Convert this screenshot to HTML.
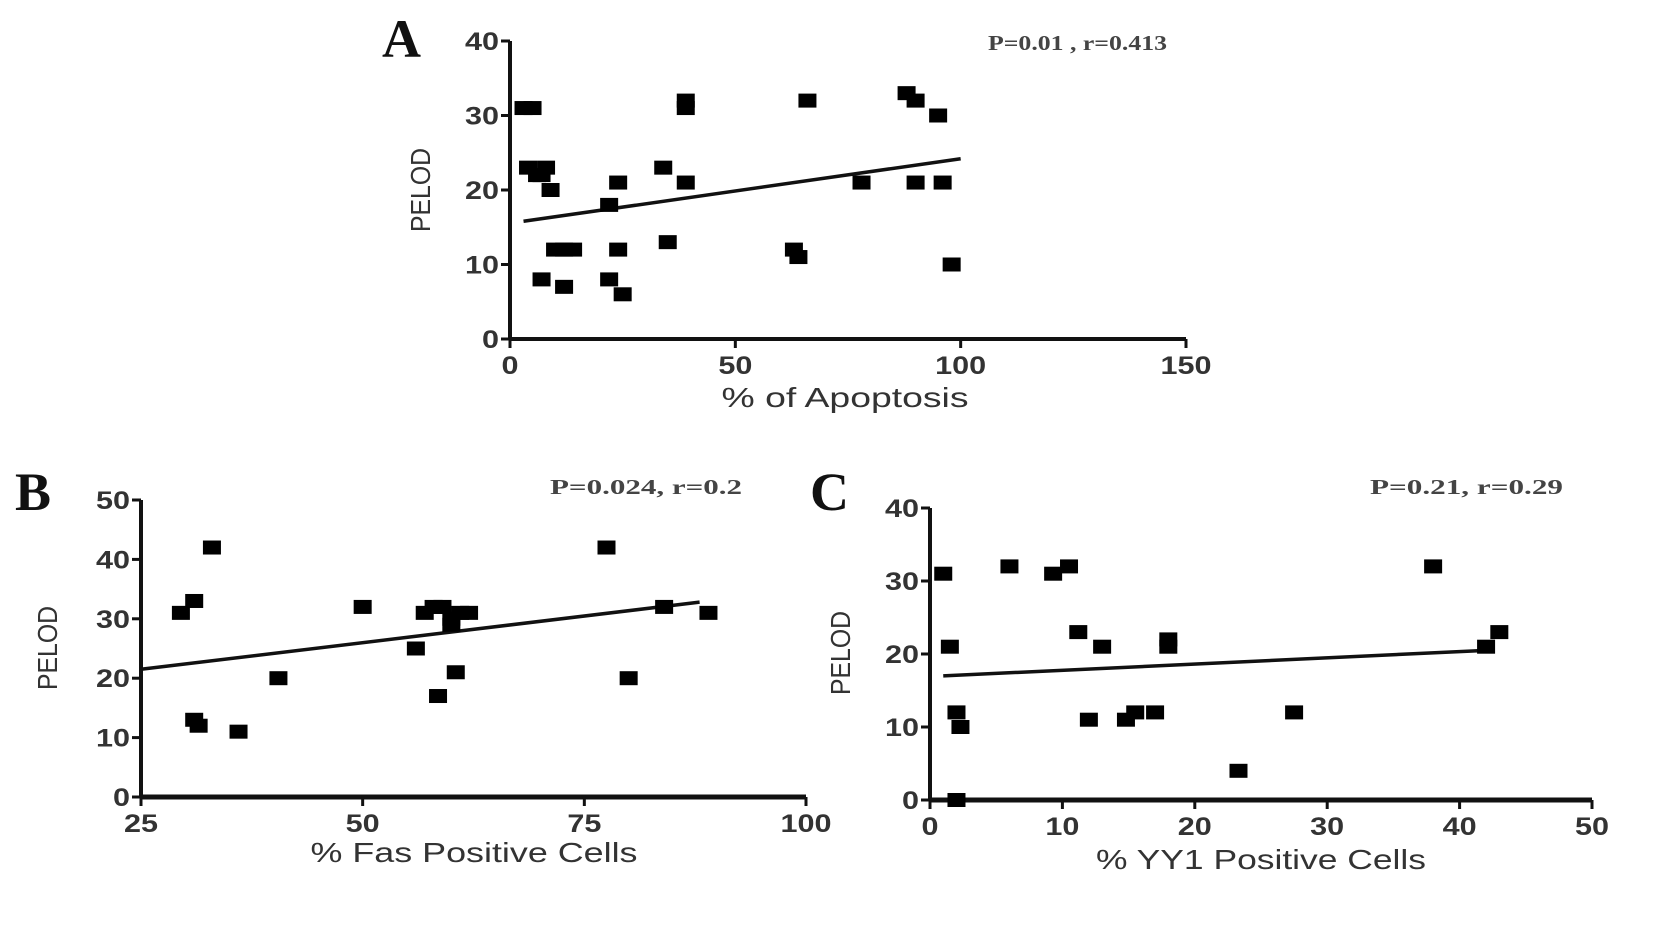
<!DOCTYPE html>
<html><head><meta charset="utf-8"><style>
body{margin:0;background:#fff;width:1654px;height:952px;overflow:hidden}
svg{display:block}
.tick{font-family:"Liberation Sans",sans-serif;font-size:25px;font-weight:bold;fill:#333}
.title{font-family:"Liberation Sans",sans-serif;font-size:28px;fill:#333}
.letter{font-family:"Liberation Serif",serif;font-size:54px;font-weight:bold;fill:#111}
.stat{font-family:"Liberation Serif",serif;font-size:21px;font-weight:bold;fill:#444}
</style></head><body>
<svg id="fig" width="1654" height="952"></svg>
<script>
const NS="http://www.w3.org/2000/svg";
const svg=document.getElementById('fig');
// Panel A data
const aX=[3,5,4,6,7,8,7,9,10,12,14,12,22,22,24,24,25,34,35,39,39,39,63,64,66,78,88,90,90,95,96,98];
const aY=[31,31,23,22,22,23,8,20,12,12,12,7,8,18,21,12,6,23,13,32,31,21,12,11,32,21,33,32,21,30,21,10];
const aFitX=[3,100];const aFitY=[15.8,24.2];
const aXTicks=[0,50,100,150];const aYTicks=[0,10,20,30,40];
// Panel B data
const bX=[29.5,31,31,31.5,33,36,40.5,50,56,57,58,59,58.5,60,60,60.5,61,62,77.5,80,84,89];
const bY=[31,33,13,12,42,11,20,32,25,31,32,32,17,30,29,21,31,31,42,20,32,31];
const bFitX=[25,88];const bFitY=[21.5,32.8];
const bXTicks=[25,50,75,100];const bYTicks=[0,10,20,30,40,50];
// Panel C data
const cX=[1,1.5,2,2.3,2,6,9.3,10.5,11.2,12,13,14.8,15.5,17,18,18,23.3,27.5,38,42,43];
const cY=[31,21,12,10,0,32,31,32,23,11,21,11,12,12,21,22,4,12,32,21,23];
const cFitX=[1,42];const cFitY=[17,20.5];
const cXTicks=[0,10,20,30,40,50];const cYTicks=[0,10,20,30,40];

function el(t,a,p){const e=document.createElementNS(NS,t);for(const k in a)e.setAttribute(k,a[k]);(p||svg).appendChild(e);return e;}

function panel(cfg){
  const g=el('g',{});
  
  
  const sx=v=>cfg.px0+(v-cfg.xmin)/(cfg.xmax-cfg.xmin)*(cfg.px1-cfg.px0);
  const sy=v=>cfg.py0+(v-cfg.ymin)/(cfg.ymax-cfg.ymin)*(cfg.py1-cfg.py0);
  const ax=el('line',{x1:cfg.px0,y1:sy(cfg.ymin)+1.5,x2:cfg.px0,y2:cfg.py1,stroke:'#111','stroke-width':4},g);
  
  const bx=el('line',{x1:cfg.px0,y1:cfg.py0,x2:cfg.px1,y2:cfg.py0,stroke:'#111','stroke-width':cfg.xw},g);
  
  cfg.yt.forEach(v=>{
    el('line',{x1:cfg.px0-9,y1:sy(v),x2:cfg.px0,y2:sy(v),stroke:'#111','stroke-width':3},g);
    const s=String(v);
    const t=el('text',{x:cfg.px0-11,y:sy(v)+9,'text-anchor':'end',class:'tick',textLength:17*s.length,lengthAdjust:'spacingAndGlyphs'},g);t.textContent=s;
    
  });
  cfg.xt.forEach(v=>{
    el('line',{x1:sx(v),y1:cfg.py0,x2:sx(v),y2:cfg.py0+9,stroke:'#111','stroke-width':3},g);
    const s=String(v);
    const t=el('text',{x:sx(v),y:cfg.py0+35,'text-anchor':'middle',class:'tick',textLength:17*s.length,lengthAdjust:'spacingAndGlyphs'},g);t.textContent=s;
    
  });
  const fit=el('line',{x1:sx(cfg.fx[0]),y1:sy(cfg.fy[0]),x2:sx(cfg.fx[1]),y2:sy(cfg.fy[1]),stroke:'#111','stroke-width':3.5},g);
  
  cfg.X.forEach((v,i)=>{
    const r=el('rect',{x:sx(v)-9,y:sy(cfg.Y[i])-7,width:18,height:14,fill:'#000'},g);
    
  });
  const xt=el('text',{x:cfg.xtx,y:cfg.xty,'text-anchor':'middle',class:'title',textLength:cfg.xtl,lengthAdjust:'spacingAndGlyphs'},g);xt.textContent=cfg.xtitle;
  
  const yt=el('text',{x:0,y:0,'text-anchor':'middle',class:'title',textLength:84,lengthAdjust:'spacingAndGlyphs',transform:`translate(${cfg.ytx},${cfg.yty}) rotate(-90)`},g);yt.textContent='PELOD';
  
  const L=el('text',{x:cfg.lx,y:cfg.ly,class:'letter'},g);L.textContent=cfg.letter;
  
  const S=el('text',{x:cfg.sx,y:cfg.sy,class:'stat',textLength:cfg.stl,lengthAdjust:'spacingAndGlyphs'},g);S.textContent=cfg.stat;
  
}
panel({name:'panel-a-apoptosis',X:aX,Y:aY,fx:aFitX,fy:aFitY,xt:aXTicks,yt:aYTicks,xmin:0,xmax:150,ymin:0,ymax:40,
  px0:510,px1:1186,py0:339,py1:41,xw:4,xtitle:'% of Apoptosis',xtl:247,xtx:845,xty:407,ytx:430,yty:190,
  letter:'A',lx:382,ly:57,stat:'P=0.01 , r=0.413',stl:179,sx:988,sy:50});
panel({name:'panel-b-fas',X:bX,Y:bY,fx:bFitX,fy:bFitY,xt:bXTicks,yt:bYTicks,xmin:25,xmax:100,ymin:0,ymax:50,
  px0:141,px1:806,py0:797,py1:500,xw:5,xtitle:'% Fas Positive Cells',xtl:327,xtx:474,xty:862,ytx:57,yty:648,
  letter:'B',lx:15,ly:510,stat:'P=0.024, r=0.2',stl:192,sx:550,sy:494});
panel({name:'panel-c-yy1',X:cX,Y:cY,fx:cFitX,fy:cFitY,xt:cXTicks,yt:cYTicks,xmin:0,xmax:50,ymin:0,ymax:40,
  px0:930,px1:1592,py0:800,py1:508,xw:5,xtitle:'% YY1 Positive Cells',xtl:330,xtx:1261,xty:869,ytx:850,yty:653,
  letter:'C',lx:810,ly:510,stat:'P=0.21, r=0.29',stl:193,sx:1370,sy:494});
</script>
</body></html>
